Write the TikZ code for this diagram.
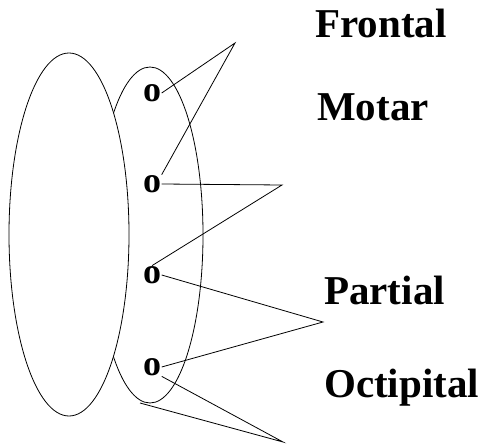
\documentclass[tikz,border=0pt]{standalone}
\usepackage{fontspec}
\setmainfont{Liberation Serif}
\usepackage{tikz}
\usetikzlibrary{calc,positioning}
\definecolor{Ink}{HTML}{000000}
\tikzset{
  lobelabel/.style={anchor=base west, inner sep=0pt, text=Ink,
    font=\fontsize{41}{45}\selectfont\bfseries},
  site/.style={inner sep=0.5pt, text=Ink,
    font=\fontsize{36}{40}\selectfont\bfseries},
  wire/.style={draw=Ink, line width=0.8pt}
}

\begin{document}
\begin{tikzpicture}[x=1pt, y=-1pt]
        \useasboundingbox (0,0) rectangle (482,444);
        % the two halves, the left one in front
        \draw[wire] (150,235) ellipse [x radius=53, y radius=168];
        \draw[wire, fill=white] (69,234.5) ellipse [x radius=60, y radius=181.5];
        % sites on the right half
        \node[site] (siteone) at (152,93) {o};
        \node[site] (sitetwo) at (152,184) {o};
        \node[site] (sitethree) at (152,275) {o};
        \node[site] (sitefour) at (152,367) {o};
        \coordinate (rim) at (140,403);
        % names
        \node[lobelabel] (frontal) at (315,38) {Frontal};
        \node[lobelabel] (motar) at (317,120) {Motar};
        \node[lobelabel] (partial) at (324,304) {Partial};
        \node[lobelabel] (octipital) at (324,397) {Octipital};
        \coordinate (tipfr) at (235,43);
        \coordinate (tipmo) at (282,185);
        \coordinate (tippa) at (323,322);
        \coordinate (tipoc) at (283,442);
        \draw[wire] (siteone.east) -- (tipfr) -- (sitetwo.north east);
        \draw[wire] (sitetwo.east) -- (tipmo) -- (sitethree.north);
        \draw[wire] (sitethree.east) -- (tippa) -- (sitefour.east);
        \draw[wire] (sitefour.south east) -- (tipoc) -- (rim);
      \end{tikzpicture}
\end{document}
